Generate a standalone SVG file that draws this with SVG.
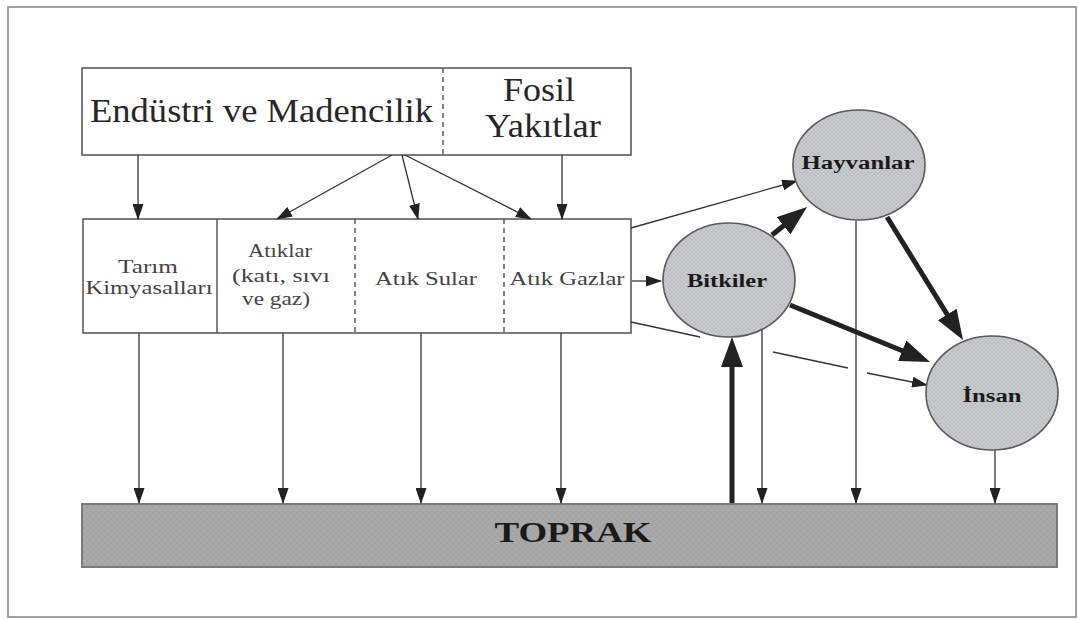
<svg xmlns="http://www.w3.org/2000/svg" width="1078" height="619" viewBox="0 0 1078 619">
<style>
.box{fill:#fff;stroke:#5a5a5a;stroke-width:1.6}
.div{stroke:#5a5a5a;stroke-width:1.5}
.dash{stroke:#5a5a5a;stroke-width:1.5;stroke-dasharray:5 4}
.big{font-family:"Liberation Serif","Times New Roman",serif;font-size:34px;fill:#262626}
.sm{font-family:"Liberation Serif","Times New Roman",serif;font-size:19px;fill:#444}
.bold{font-family:"Liberation Serif","Times New Roman",serif;font-weight:bold;fill:#1a1a1a}
.ell{fill:url(#hatch);stroke:#5a5a5a;stroke-width:1.6}
.thin{stroke:#333;stroke-width:1.3;fill:none;marker-end:url(#a)}
.thick{stroke:#222;stroke-width:5;fill:none;marker-end:url(#b)}
</style>
<defs>
<pattern id="hatch" width="4" height="4" patternUnits="userSpaceOnUse">
<rect width="4" height="4" fill="#cacccf"/>
<path d="M0,0L4,4M4,0L0,4" stroke="#b2b4b7" stroke-width="0.6"/>
</pattern>
<pattern id="soil" width="6" height="6" patternUnits="userSpaceOnUse">
<rect width="6" height="6" fill="#a9a9a9"/>
<path d="M0,0L6,6M6,0L0,6" stroke="#9f9f9f" stroke-width="0.7"/>
</pattern>
<marker id="a" viewBox="0 0 16 11" markerWidth="16" markerHeight="11" refX="15" refY="5.5" orient="auto" markerUnits="userSpaceOnUse">
<path d="M0,0L16,5.5L0,11z" fill="#222"/>
</marker>
<marker id="b" viewBox="0 0 30 22" markerWidth="30" markerHeight="22" refX="22" refY="11" orient="auto" markerUnits="userSpaceOnUse">
<path d="M0,0L30,11L0,22z" fill="#222"/>
</marker>
</defs>
<rect x="8" y="7" width="1068" height="610" fill="#fff" stroke="#8a8a8a" stroke-width="1.6"/>

<g id="kaynaklar">
<rect class="box" x="82" y="68" width="549" height="87"/>
<line class="dash" x1="443" y1="68" x2="443" y2="155"/>
<text class="big" x="90" y="122" textLength="343" lengthAdjust="spacingAndGlyphs">Endüstri ve Madencilik</text>
<text class="big" x="539" y="101" text-anchor="middle" font-size="32" textLength="72" lengthAdjust="spacingAndGlyphs">Fosil</text>
<text class="big" x="543" y="137" text-anchor="middle" font-size="32" textLength="116" lengthAdjust="spacingAndGlyphs">Yakıtlar</text>
</g>

<g id="kirleticiler">
<rect class="box" x="83" y="219" width="548" height="114"/>
<line class="div" x1="217" y1="219" x2="217" y2="333"/>
<line class="dash" x1="355" y1="219" x2="355" y2="333"/>
<line class="dash" x1="504" y1="219" x2="504" y2="333"/>
<text class="sm" x="148" y="273" text-anchor="middle" textLength="60" lengthAdjust="spacingAndGlyphs">Tarım</text>
<text class="sm" x="149" y="294" text-anchor="middle" textLength="127" lengthAdjust="spacingAndGlyphs">Kimyasalları</text>
<text class="sm" x="280" y="257" text-anchor="middle" textLength="64" lengthAdjust="spacingAndGlyphs">Atıklar</text>
<text class="sm" x="281" y="282" text-anchor="middle" textLength="98" lengthAdjust="spacingAndGlyphs">(katı, sıvı</text>
<text class="sm" x="276" y="305" text-anchor="middle" textLength="68" lengthAdjust="spacingAndGlyphs">ve gaz)</text>
<text class="sm" x="426" y="285" text-anchor="middle" textLength="102" lengthAdjust="spacingAndGlyphs">Atık Sular</text>
<text class="sm" x="567" y="285" text-anchor="middle" textLength="115" lengthAdjust="spacingAndGlyphs">Atık Gazlar</text>
</g>

<g id="toprak">
<rect x="82" y="504" width="975" height="63" fill="url(#soil)" stroke="#7a7a7a" stroke-width="2"/>
<text class="bold" x="573" y="542" text-anchor="middle" font-size="30" textLength="157" lengthAdjust="spacingAndGlyphs">TOPRAK</text>
</g>

<g id="connectors">
<line class="thin" x1="138" y1="155" x2="138" y2="219"/>
<line class="thin" x1="392" y1="155" x2="277" y2="219"/>
<line class="thin" x1="402" y1="155" x2="418" y2="219"/>
<line class="thin" x1="405" y1="155" x2="531" y2="219"/>
<line class="thin" x1="562" y1="155" x2="562" y2="219"/>
<line class="thin" x1="139" y1="333" x2="139" y2="503"/>
<line class="thin" x1="283" y1="333" x2="283" y2="503"/>
<line class="thin" x1="421" y1="333" x2="421" y2="503"/>
<line class="thin" x1="561" y1="333" x2="561" y2="503"/>
<line class="thin" x1="631" y1="228" x2="797" y2="181"/>
<line class="thin" x1="632" y1="281" x2="661" y2="281"/>
<path class="thin" d="M631,322L700,337M773,352L848,368M867,373L927,385"/>
<line class="thin" x1="762" y1="329" x2="762" y2="503"/>
<line class="thin" x1="856" y1="221" x2="856" y2="503"/>
<line class="thin" x1="995" y1="450" x2="995" y2="503"/>
<line class="thick" x1="732" y1="503" x2="732" y2="345"/>
<line class="thick" x1="772" y1="235" x2="800.8" y2="212"/>
<line class="thick" x1="887" y1="217" x2="958.8" y2="333.2"/>
<line class="thick" x1="790" y1="305" x2="922.6" y2="359"/>
</g>

<g id="hayvanlar">
<ellipse class="ell" cx="859" cy="165" rx="66" ry="55"/>
<text class="bold" x="858" y="169" text-anchor="middle" font-size="18" textLength="113" lengthAdjust="spacingAndGlyphs">Hayvanlar</text>
</g>
<g id="bitkiler">
<ellipse class="ell" cx="729" cy="280" rx="66" ry="57"/>
<text class="bold" x="727" y="287" text-anchor="middle" font-size="18" textLength="80" lengthAdjust="spacingAndGlyphs">Bitkiler</text>
</g>
<g id="insan">
<ellipse class="ell" cx="992" cy="393" rx="66" ry="57"/>
<text class="bold" x="992" y="402" text-anchor="middle" font-size="18" textLength="59" lengthAdjust="spacingAndGlyphs">İnsan</text>
</g>
</svg>
